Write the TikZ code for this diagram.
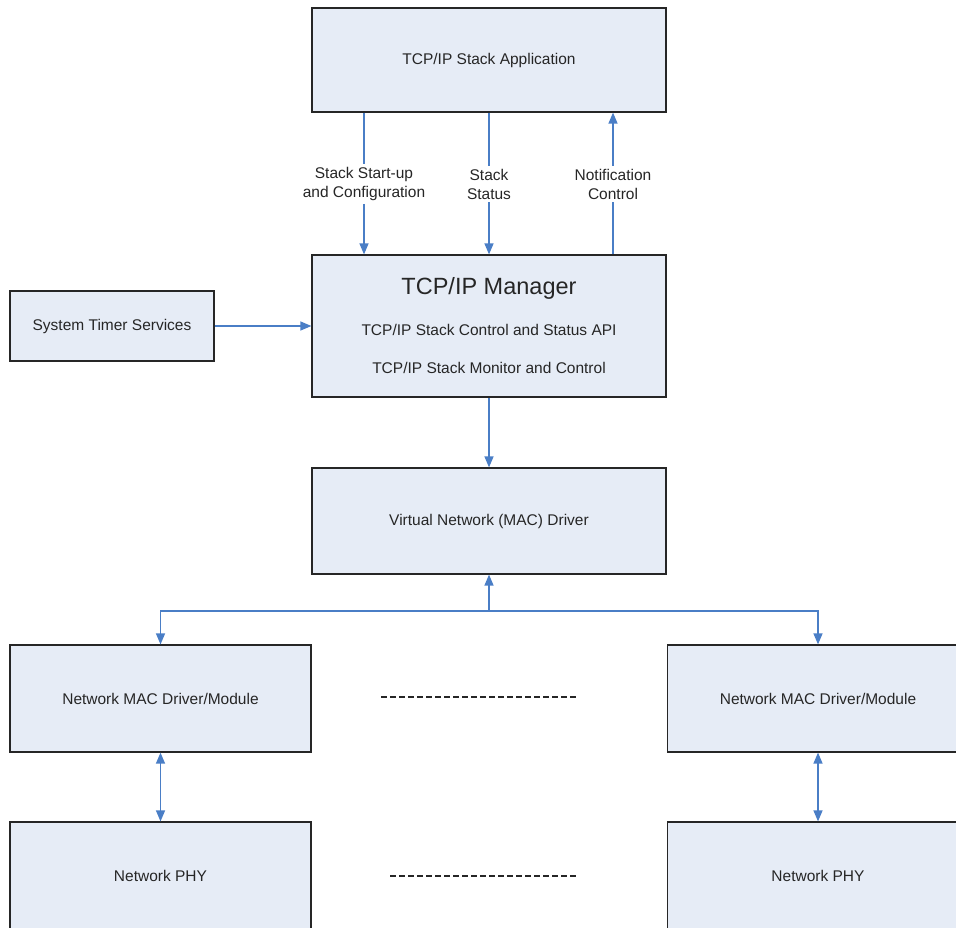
\documentclass[tikz,border=0pt]{standalone}
\usepackage{fontspec}
\setmainfont{Liberation Sans}
\usepackage{tikz}
\usetikzlibrary{arrows.meta,shadows,calc}
\definecolor{boxfill}{HTML}{E6ECF6}
\definecolor{linkblue}{HTML}{4A7EC6}
\definecolor{inkgrey}{HTML}{262626}
\begin{document}
\begin{tikzpicture}[x=1pt, y=-1pt,
  box/.style={draw=inkgrey, line width=1.2pt, fill=boxfill, align=center, text=inkgrey,
    font=\fontsize{15.5}{19}\selectfont,
    drop shadow={shadow xshift=1.3pt, shadow yshift=-1.3pt, fill=black!40, opacity=1}},
  lab/.style={fill=white, align=center, text=inkgrey, inner sep=3pt,
    font=\fontsize{15.5}{19}\selectfont},
  title/.style={text=inkgrey, inner sep=0pt, font=\fontsize{23.5}{28}\selectfont},
  arrow/.style={-{Triangle[length=11pt, width=9pt]}, draw=linkblue, line width=1.3pt},
  dual/.style={{Triangle[length=11pt, width=9pt]}-{Triangle[length=11pt, width=9pt]}, draw=linkblue, line width=1.3pt},
  link/.style={draw=linkblue, line width=1.3pt},
  etc/.style={draw=black!85, line width=1.5pt, dash pattern=on 6pt off 3pt}
]
\clip (0,0) rectangle (956,928);
% top of the stack
\node[box, minimum width=354pt, minimum height=104pt] (app) at (489,60) {TCP/IP Stack Application};
\node[box, minimum width=354pt, minimum height=142pt] (mgr) at (489,326) {};
\node[title] (mgrtitle) at (489,288) {TCP/IP Manager};
\node[lab, fill=none] (mgrapi) at (489,330) {TCP/IP Stack Control and Status API};
\node[lab, fill=none] (mgrmon) at (489,368) {TCP/IP Stack Monitor and Control};
\node[box, minimum width=204pt, minimum height=70pt] (timer) at (112,326) {System Timer Services};
\node[box, minimum width=354pt, minimum height=106pt] (vnet) at (489,521) {Virtual Network (MAC) Driver};
% one MAC/PHY column per interface
\foreach \s/\x in {L/160.5,R/818} {
  \node[box, minimum width=301pt, minimum height=107pt] (mac\s) at (\x,698.5) {Network MAC Driver/Module};
  \node[box, minimum width=301pt, minimum height=107pt] (phy\s) at (\x,875.5) {Network PHY};
  \draw[dual] (mac\s.south) -- (phy\s.north);
}
% labelled links between application and manager
\node[lab] (lstart) at (364,184) {Stack Start-up\\and Configuration};
\node[lab] (lstat) at (489,184) {Stack\\Status};
\node[lab] (lnote) at (613,184) {Notification\\Control};
\draw[link] (app.south -| lstart) -- (lstart);
\draw[arrow] (lstart) -- (mgr.north -| lstart);
\draw[link] (app.south -| lstat) -- (lstat);
\draw[arrow] (lstat) -- (mgr.north -| lstat);
\draw[link] (mgr.north -| lnote) -- (lnote);
\draw[arrow] (lnote) -- (app.south -| lnote);
\draw[arrow] (timer.east) -- (mgr.west |- timer.east);
\draw[arrow] (mgr.south) -- (vnet.north);
% fan out to the MAC drivers
\coordinate (fork) at (489,611);
\draw[arrow] (fork) -- (vnet.south);
\draw[arrow] (fork) -| (macL.north);
\draw[arrow] (fork) -| (macR.north);
\draw[etc] (381,697) -- (576,697);
\draw[etc] (390,876) -- (576,876);
\end{tikzpicture}
\end{document}
